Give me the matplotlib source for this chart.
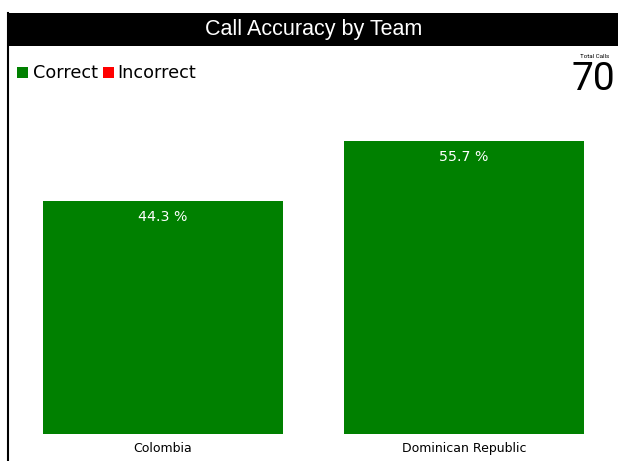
import matplotlib.pyplot as plt
from matplotlib.patches import Rectangle

teams = ['Colombia', 'Dominican Republic']
correct_pct = [44.3, 55.7]
total_calls = 70
legend_labels = ['Correct', 'Incorrect']
legend_colors = ['#008000', '#ff0000']

W, H = 618, 461
fig = plt.figure(figsize=(W / 100, H / 100), dpi=100)

# title bar
fig.patches.append(Rectangle((7 / W, 1 - 46 / H), 1, 33 / H, transform=fig.transFigure,
                             facecolor='black', edgecolor='none'))
fig.text(314 / W, 1 - 30 / H, 'Call Accuracy by Team', color='white', ha='center', va='center',
         fontsize=15.5, family='Liberation Sans')
# left border
fig.add_artist(plt.Line2D([7.5 / W, 7.5 / W], [0, 1 - 13 / H], transform=fig.transFigure,
                          color='black', lw=1.5))

# legend
fig.patches.append(Rectangle((17 / W, 1 - 78 / H), 11 / W, 11 / H, transform=fig.transFigure,
                             facecolor=legend_colors[0], edgecolor='none'))
fig.text(33 / W, 1 - 73 / H, legend_labels[0], fontsize=12.7, va='center')
fig.patches.append(Rectangle((103 / W, 1 - 78 / H), 11 / W, 11 / H, transform=fig.transFigure,
                             facecolor=legend_colors[1], edgecolor='none'))
fig.text(117 / W, 1 - 73 / H, legend_labels[1], fontsize=12.7, va='center')

# total calls
fig.text(595 / W, 1 - 57 / H, 'Total Calls', fontsize=4.5, ha='center', va='center', family='Roboto')
fig.text(593 / W, 1 - 79 / H, str(total_calls), fontsize=28, ha='center', va='center', family='Roboto')

# bars
ax = fig.add_axes([8 / W, 1 - 434 / H, 610 / W, 334 / H])
xs = range(len(teams))
bars = ax.bar(xs, correct_pct, width=240 / 301, color='#008000')
for b, v in zip(bars, correct_pct):
    ax.text(b.get_x() + b.get_width() / 2, v - 16 / 5.26, f'{v} %', color='white',
            ha='center', va='center', fontsize=10.2)
ax.set_xlim(-155 / 301, 455 / 301)
ax.set_ylim(0, 334 / 5.26)
ax.set_xticks(list(xs))
ax.set_xticklabels(teams, fontsize=9)
ax.tick_params(axis='x', length=0, pad=6)
ax.set_yticks([])
for s in ax.spines.values():
    s.set_visible(False)

plt.savefig('out.png', dpi=100)
